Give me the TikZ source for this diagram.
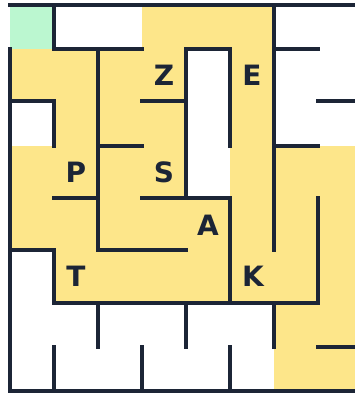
\documentclass[tikz,border=0pt]{standalone}
\usepackage{fontspec}
\setsansfont{DejaVu Sans}
\definecolor{wallc}{HTML}{1C2536}
\definecolor{pathc}{HTML}{FDE68A}
\definecolor{startc}{HTML}{BBF7D0}
\begin{document}
\begin{tikzpicture}[x=1pt,y=-1pt,
  wallline/.style={draw=wallc,line width=4pt,line cap=rect,line join=miter},
  lbl/.style={font=\sffamily\bfseries\fontsize{28}{28}\selectfont,text=wallc,inner sep=0pt,anchor=center}]
\useasboundingbox (0,0) rectangle (355,393);
\clip (0,0) rectangle (355,393);
\fill[white] (0,0) rectangle (355,393);
% start cell
\fill[startc] (10,5) rectangle (54,49);
% path cells
\fill[pathc] (142,5) rectangle (274,49);
\fill[pathc] (10,49) rectangle (186,101);
\fill[pathc] (230,49) rectangle (274,146);
\fill[pathc] (54,101) rectangle (186,146);
\fill[pathc] (10,146) rectangle (186,198);
\fill[pathc] (230,146) rectangle (362,198);
\fill[pathc] (10,198) rectangle (362,250);
\fill[pathc] (54,250) rectangle (362,303);
\fill[pathc] (274,303) rectangle (362,391);
% walls
\draw[wallline] (10,5) -- (362,5);
\draw[wallline] (10,49) -- (10,391) -- (362,391);
\draw[wallline] (54,5) -- (54,49) -- (142,49);
\draw[wallline] (98,49) -- (98,250) -- (186,250);
\draw[wallline] (10,101) -- (54,101) -- (54,146);
\draw[wallline] (142,101) -- (186,101);
\draw[wallline] (98,146) -- (142,146);
\draw[wallline] (54,198) -- (98,198);
\draw[wallline] (142,198) -- (230,198) -- (230,303);
\draw[wallline] (186,198) -- (186,49) -- (230,49) -- (230,146);
\draw[wallline] (274,5) -- (274,250);
\draw[wallline] (274,49) -- (318,49);
\draw[wallline] (318,101) -- (362,101);
\draw[wallline] (274,146) -- (318,146);
\draw[wallline] (318,198) -- (318,303) -- (54,303) -- (54,250) -- (10,250);
\draw[wallline] (98,303) -- (98,347);
\draw[wallline] (54,347) -- (54,391);
\draw[wallline] (142,347) -- (142,391);
\draw[wallline] (186,303) -- (186,347);
\draw[wallline] (230,347) -- (230,391);
\draw[wallline] (274,303) -- (274,347);
\draw[wallline] (318,347) -- (362,347);
% labels
\node[lbl] (Z) at (164,75) {Z};
\node[lbl] (E) at (252,75) {E};
\node[lbl] (P) at (76,172) {P};
\node[lbl] (S) at (164,172) {S};
\node[lbl] (A) at (208,225) {A};
\node[lbl] (T) at (76,276) {T};
\node[lbl] (K) at (253,276) {K};
\end{tikzpicture}
\end{document}
